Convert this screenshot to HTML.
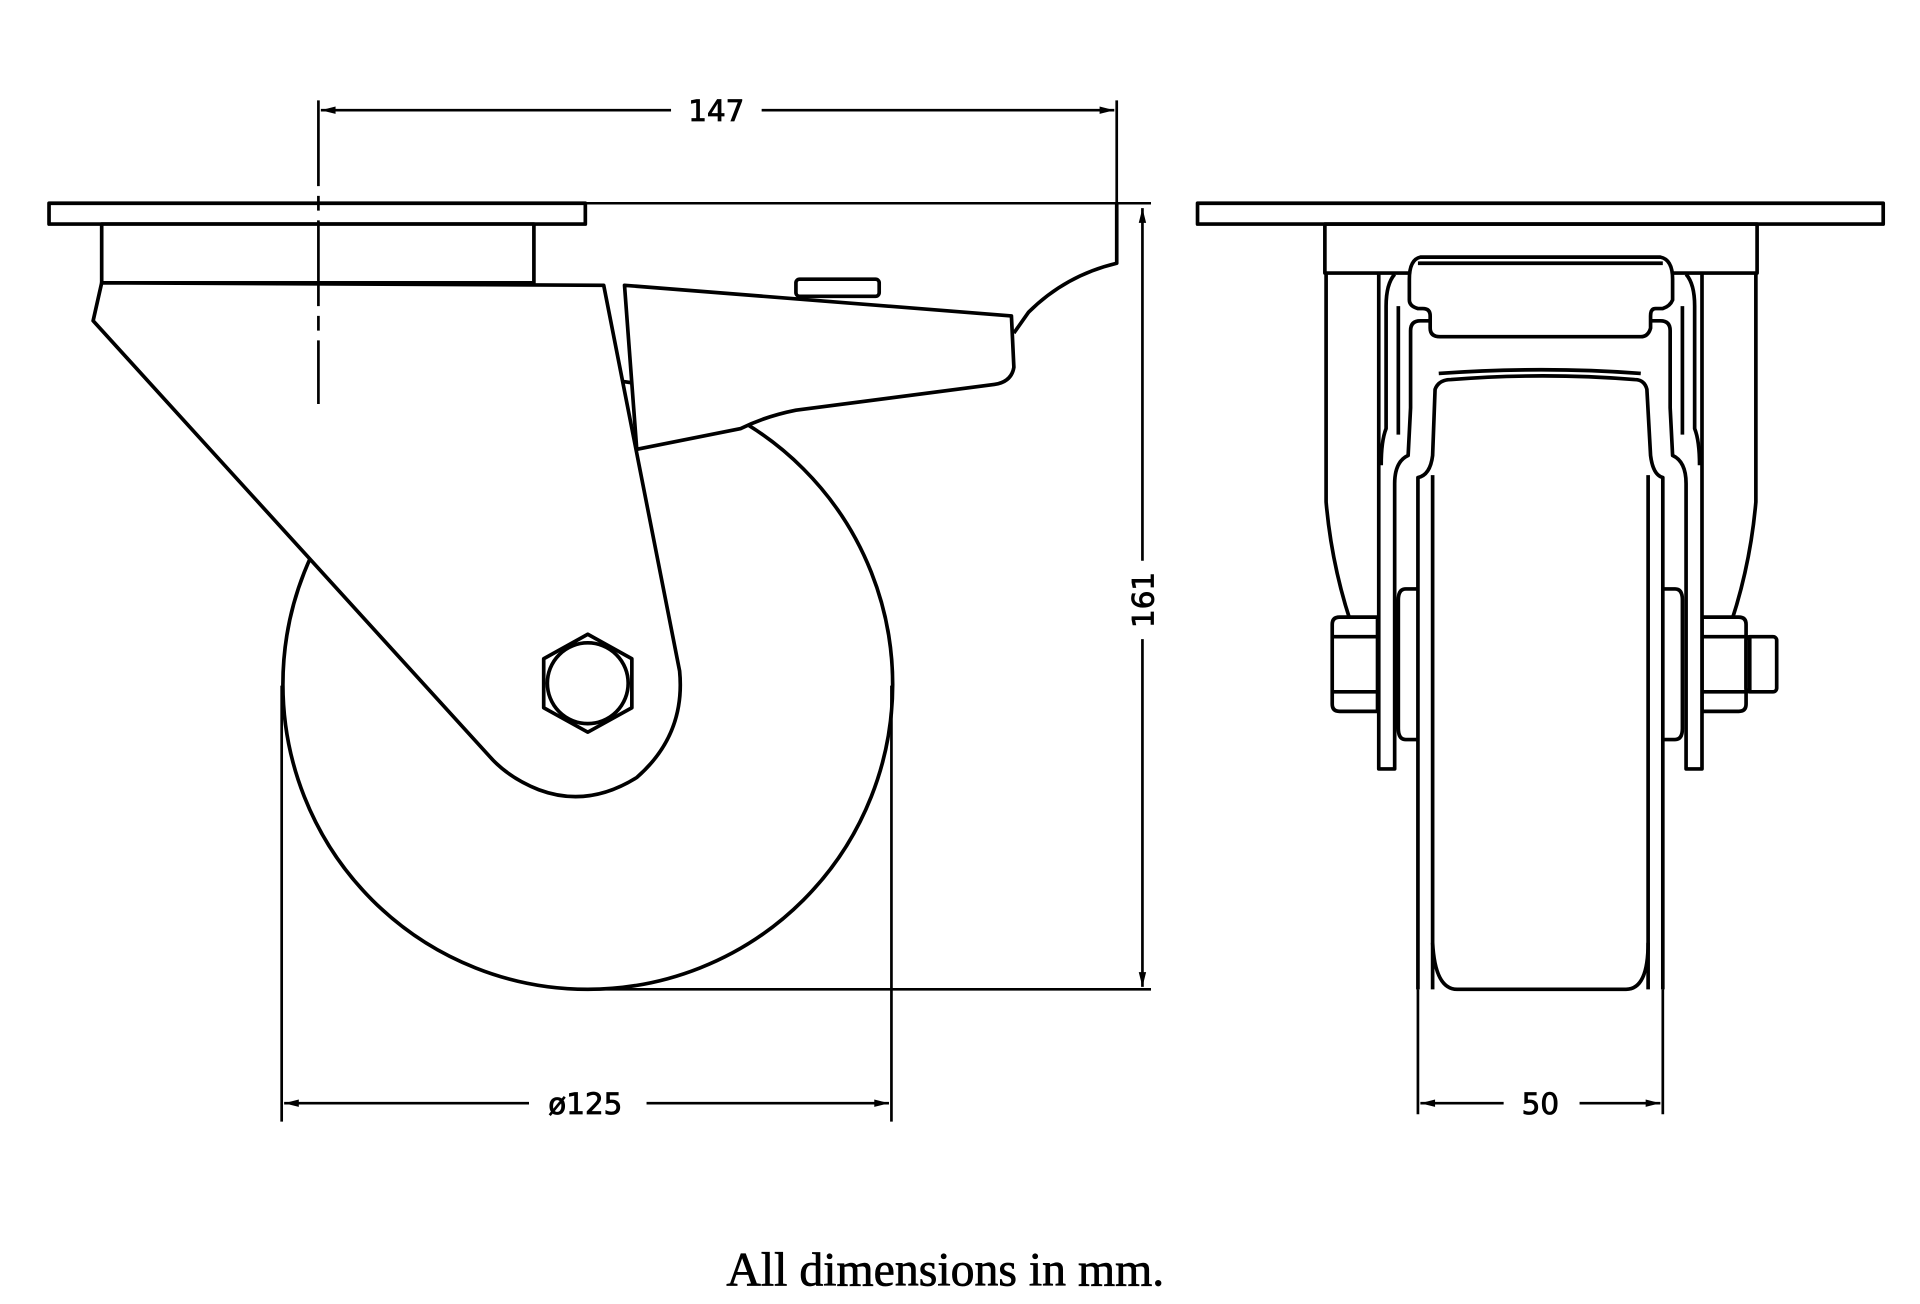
<!DOCTYPE html>
<html><head><meta charset="utf-8"><style>
html,body{margin:0;padding:0;background:#fff;}
svg{display:block;}
text{font-family:"DejaVu Sans","Liberation Sans",sans-serif;}
</style></head><body>
<svg width="1920" height="1304" viewBox="0 0 1568 1065" xmlns="http://www.w3.org/2000/svg">
<g fill="none" stroke="#000" stroke-width="3" stroke-linejoin="round">
<circle cx="480" cy="559" r="249"/>
<rect x="40" y="166" width="438" height="17" fill="#fff"/>
<line x1="478" y1="166" x2="940" y2="166" stroke-width="2"/>
<rect x="83" y="183" width="353" height="48" fill="#fff"/>
<path d="M912 166 L912 215 Q870 225 840 255 L828 272" fill="#fff"/>
<rect x="650" y="228" width="68" height="14" rx="3" fill="#fff"/>
<path d="M510 233 L826 258 L828 300 Q826 312 812 314 L650 335 Q625 340 605 350 L520 367 Z" fill="#fff"/>
<path d="M83 231 L493 233 L555 548 Q560 600 520 635 Q480 660 440 645 Q415 635 400 618 L76 262 Z" fill="#fff"/>
<polygon points="480,518 516,538 516,578 480,598 444,578 444,538" fill="#fff"/>
<circle cx="480" cy="558" r="33"/>
</g>
<g fill="none" stroke="#000" stroke-width="2.2">
<line x1="260" y1="82" x2="260" y2="330" stroke-dasharray="70,8,12,8"/>
<line x1="912" y1="82" x2="912" y2="166"/>
<line x1="262" y1="90" x2="548" y2="90"/>
<line x1="622" y1="90" x2="910" y2="90"/>
<line x1="480" y1="808" x2="940" y2="808"/>
<line x1="933" y1="170" x2="933" y2="458"/>
<line x1="933" y1="522" x2="933" y2="806"/>
<line x1="230" y1="560" x2="230" y2="916"/>
<line x1="728" y1="560" x2="728" y2="916"/>
<line x1="232" y1="901" x2="432" y2="901"/>
<line x1="528" y1="901" x2="726" y2="901"/>
<line x1="1158" y1="770" x2="1158" y2="910"/>
<line x1="1358" y1="770" x2="1358" y2="910"/>
<line x1="1160" y1="901" x2="1228" y2="901"/>
<line x1="1290" y1="901" x2="1356" y2="901"/>
</g>
<g fill="#000" stroke="none">
<polygon points="262,90 274,87 274,93"/>
<polygon points="910,90 898,87 898,93"/>
<polygon points="933,170 930,182 936,182"/>
<polygon points="933,806 930,794 936,794"/>
<polygon points="232,901 244,898 244,904"/>
<polygon points="726,901 714,898 714,904"/>
<polygon points="1160,901 1172,898 1172,904"/>
<polygon points="1356,901 1344,898 1344,904"/>
</g>
<g font-size="24" fill="#000" stroke="#000" stroke-width="0.7">
<text x="585" y="99" text-anchor="middle">147</text>
<text x="478" y="910" text-anchor="middle">ø125</text>
<text x="1258" y="910" text-anchor="middle">50</text>
<text transform="translate(942,490) rotate(-90)" text-anchor="middle">161</text>
</g>
<text x="772" y="1050" text-anchor="middle" font-size="39" stroke="#000" stroke-width="0.6" style="font-family:'Liberation Serif',serif">All dimensions in mm.</text>

<g fill="none" stroke="#000" stroke-width="3" stroke-linejoin="round">
<rect x="978" y="166" width="560" height="17" fill="#fff"/>
<rect x="1082" y="183" width="353" height="40"/>
<path d="M1083 223 L1083 410 Q1090 490 1125 562"/>
<path d="M1434 223 L1434 410 Q1427 490 1392 562"/>
<path d="M1094 504 L1125 504 L1125 581 L1094 581 Q1088 581 1088 575 L1088 510 Q1088 504 1094 504 Z" fill="#fff"/>
<line x1="1088" y1="520" x2="1125" y2="520"/><line x1="1088" y1="565" x2="1125" y2="565"/>
<path d="M1390 504 L1420 504 Q1426 504 1426 510 L1426 575 Q1426 581 1420 581 L1390 581 Z" fill="#fff"/>
<line x1="1390" y1="520" x2="1426" y2="520"/><line x1="1390" y1="565" x2="1426" y2="565"/>
<rect x="1426" y="520" width="25" height="45" rx="3" fill="#fff"/>
<line x1="1429" y1="520" x2="1429" y2="565"/>
<path d="M1126 224 L1126 628 L1139 628 L1139 395 Q1139 377 1150 372 L1152 333 L1152 270 Q1152 262 1160 262 L1168 262" fill="#fff"/>
<path d="M1390 224 L1390 628 L1377 628 L1377 395 Q1377 377 1366 372 L1364 333 L1364 270 Q1364 262 1356 262 L1348 262" fill="#fff"/>
<path d="M1139 224 Q1132 232 1132 250 L1132 350 Q1128 360 1128 380"/>
<path d="M1377 224 Q1384 232 1384 250 L1384 350 Q1388 360 1388 380"/>
<path d="M1142 250 L1142 355 M1374 250 L1374 355"/>
<path d="M1157 481 L1148 481 Q1142 481 1142 490 L1142 595 Q1142 604 1148 604 L1157 604" fill="#fff"/>
<path d="M1359 481 L1368 481 Q1374 481 1374 490 L1374 595 Q1374 604 1368 604 L1359 604" fill="#fff"/>
<path d="M1158 808 L1158 390 Q1168 388 1170 372 L1172 318 Q1175 310 1185 310 Q1260 304 1335 310 Q1343 310 1345 318 L1348 372 Q1350 388 1358 390 L1358 808" fill="#fff"/>
<path d="M1170 808 L1170 388 M1346 808 L1346 388"/>
<path d="M1175 305 Q1260 299 1340 305"/>
<path d="M1170 770 Q1172 808 1190 808 L1328 808 Q1346 808 1346 770"/>
<path d="M1160 210 L1356 210 Q1366 212 1366 228 L1366 245 Q1364 250 1358 252 L1352 252 Q1348 252 1348 258 L1348 268 Q1346 275 1340 275 L1176 275 Q1168 275 1168 268 L1168 258 Q1168 252 1162 252 L1158 252 Q1151 250 1151 245 L1151 228 Q1151 212 1160 210 Z" fill="#fff"/>
<path d="M1158 215 L1358 215"/>
</g>
</svg>
</body></html>
